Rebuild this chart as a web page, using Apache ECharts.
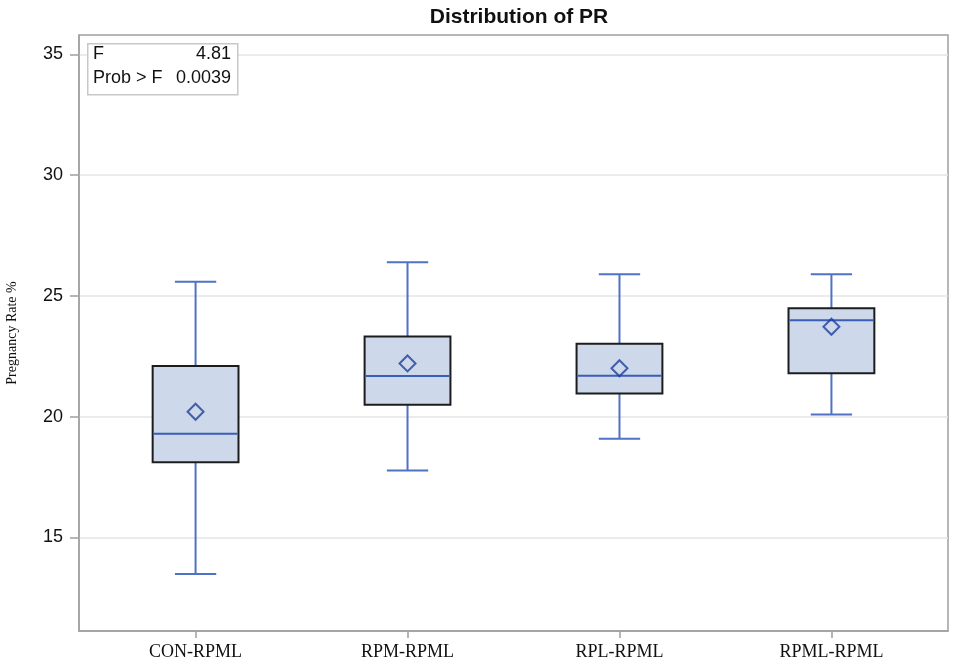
<!DOCTYPE html>
<html>
<head>
<meta charset="utf-8">
<title>Distribution of PR</title>
<script src="https://cdn.jsdelivr.net/npm/echarts@6/dist/echarts.min.js"></script>
<style>
  html, body { margin: 0; padding: 0; background: #fff; }
  #chart { width: 957px; height: 665px; }
</style>
</head>
<body>
<div id="chart"></div>
<script>
// ---- data ----
var groups   = ["CON-RPML", "RPM-RPML", "RPL-RPML", "RPML-RPML"];
var whiskLow = [13.48, 17.77, 19.08, 20.08];
var q1       = [18.11, 20.49, 20.95, 21.79];
var median   = [19.29, 21.68, 21.69, 23.99];
var q3       = [22.09, 23.31, 23.02, 24.48];
var whiskHi  = [25.58, 26.39, 25.89, 25.89];
var means    = [20.20, 22.20, 22.00, 23.72];
var yTicks   = [15, 20, 25, 30, 35];
var statLabels = ["F", "Prob > F"];
var statValues = ["4.81", "0.0039"];

var BOX_FILL  = "#cdd8ea";
var BOX_EDGE  = "#1c1c1c";
var WHISKER   = "#4f72c4";
var MEDIAN    = "#3a5db6";
var MEAN_EDGE = "#1f3f9c";

var boxData = groups.map(function (g, i) {
  return [i, whiskLow[i], q1[i], median[i], q3[i], whiskHi[i]];
});
var meanData = groups.map(function (g, i) { return [i, means[i]]; });

// box + whiskers drawn through the axis scales
function renderBox(params, api) {
  var x = api.value(0);
  var lo = api.coord([x, api.value(1)]);
  var b1 = api.coord([x, api.value(2)]);
  var md = api.coord([x, api.value(3)]);
  var b3 = api.coord([x, api.value(4)]);
  var hi = api.coord([x, api.value(5)]);
  var unit = api.size([1, 0])[0];
  var hb = unit * 0.405 / 2;   // half box width
  var hc = unit * 0.195 / 2;   // half cap width
  var cx = lo[0];
  var wStyle = { stroke: WHISKER, lineWidth: 2 };
  return {
    type: "group",
    children: [
      { type: "line", shape: { x1: cx, y1: hi[1], x2: cx, y2: b3[1] }, style: wStyle },
      { type: "line", shape: { x1: cx, y1: b1[1], x2: cx, y2: lo[1] }, style: wStyle },
      { type: "line", shape: { x1: cx - hc, y1: hi[1], x2: cx + hc, y2: hi[1] }, style: wStyle },
      { type: "line", shape: { x1: cx - hc, y1: lo[1], x2: cx + hc, y2: lo[1] }, style: wStyle },
      { type: "rect", shape: { x: cx - hb, y: b3[1], width: hb * 2, height: b1[1] - b3[1] },
        style: { fill: BOX_FILL, stroke: BOX_EDGE, lineWidth: 2 } },
      { type: "line", shape: { x1: cx - hb + 1, y1: md[1], x2: cx + hb - 1, y2: md[1] },
        style: { stroke: MEDIAN, lineWidth: 2 } }
    ]
  };
}

var chart = echarts.init(document.getElementById("chart"));
chart.setOption({
  animation: false,
  title: {
    text: "Distribution of PR",
    left: 514, top: 2, textAlign: "center",
    textStyle: { fontFamily: "Liberation Sans, Arial, sans-serif", fontWeight: "bold", fontSize: 21, color: "#111" }
  },
  grid: {
    left: 79, right: 9, top: 35, bottom: 34,
    outerBoundsMode: "none", containLabel: false,
    show: true, borderColor: "#a0a0a0", borderWidth: 1.5, backgroundColor: "#fff"
  },
  xAxis: {
    type: "value",
    min: -0.55, max: 3.55,
    axisLine: { show: true, onZero: false, lineStyle: { color: "#a0a0a0", width: 1.5 } },
    axisTick: { show: true, length: 7, customValues: [0, 1, 2, 3], lineStyle: { color: "#a0a0a0", width: 1.5 } },
    axisLabel: {
      customValues: [0, 1, 2, 3], margin: 12,
      formatter: function (v) { return groups[Math.round(v)] || ""; },
      fontFamily: "Liberation Serif, Times New Roman, serif", fontSize: 18, color: "#111"
    },
    splitLine: { show: false }
  },
  yAxis: {
    type: "value",
    min: 11.12, max: 35.8,
    name: "Pregnancy Rate %",
    nameLocation: "middle", nameGap: 60,
    nameTextStyle: { fontFamily: "Liberation Serif, Times New Roman, serif", fontSize: 14, color: "#111",
                     padding: [0, 0, 0, 0] },
    axisLine: { show: true, onZero: false, lineStyle: { color: "#a0a0a0", width: 1.5 } },
    axisTick: { show: true, length: 9, customValues: yTicks, lineStyle: { color: "#a0a0a0", width: 1.5 } },
    axisLabel: {
      customValues: yTicks, margin: 16,
      fontFamily: "Liberation Sans, Arial, sans-serif", fontSize: 18, color: "#111"
    },
    splitLine: { show: true, lineStyle: { color: "#e4e4e4", width: 1.5 } }
  },
  graphic: [
    { type: "rect", left: 87, top: 43, shape: { width: 150, height: 51 },
      style: { fill: "#fff", stroke: "#c8c8c8", lineWidth: 1.5 }, z: 10 },
    { type: "text", left: 93, top: 45, z: 11,
      style: { text: statLabels[0], font: "18px Liberation Sans, Arial, sans-serif", fill: "#111" } },
    { type: "text", right: 957 - 231, top: 45, z: 11,
      style: { text: statValues[0], font: "18px Liberation Sans, Arial, sans-serif", fill: "#111" } },
    { type: "text", left: 93, top: 69, z: 11,
      style: { text: statLabels[1], font: "18px Liberation Sans, Arial, sans-serif", fill: "#111" } },
    { type: "text", right: 957 - 231, top: 69, z: 11,
      style: { text: statValues[1], font: "18px Liberation Sans, Arial, sans-serif", fill: "#111" } }
  ],
  series: [
    { type: "custom", renderItem: renderBox, data: boxData, encode: { x: 0, y: [1, 2, 3, 4, 5] }, z: 2 },
    { type: "scatter", data: meanData, symbol: "diamond", symbolSize: 16, z: 3,
      itemStyle: { color: "rgba(0,0,0,0)", borderColor: MEAN_EDGE, borderWidth: 2 } }
  ]
});
</script>
</body>
</html>
